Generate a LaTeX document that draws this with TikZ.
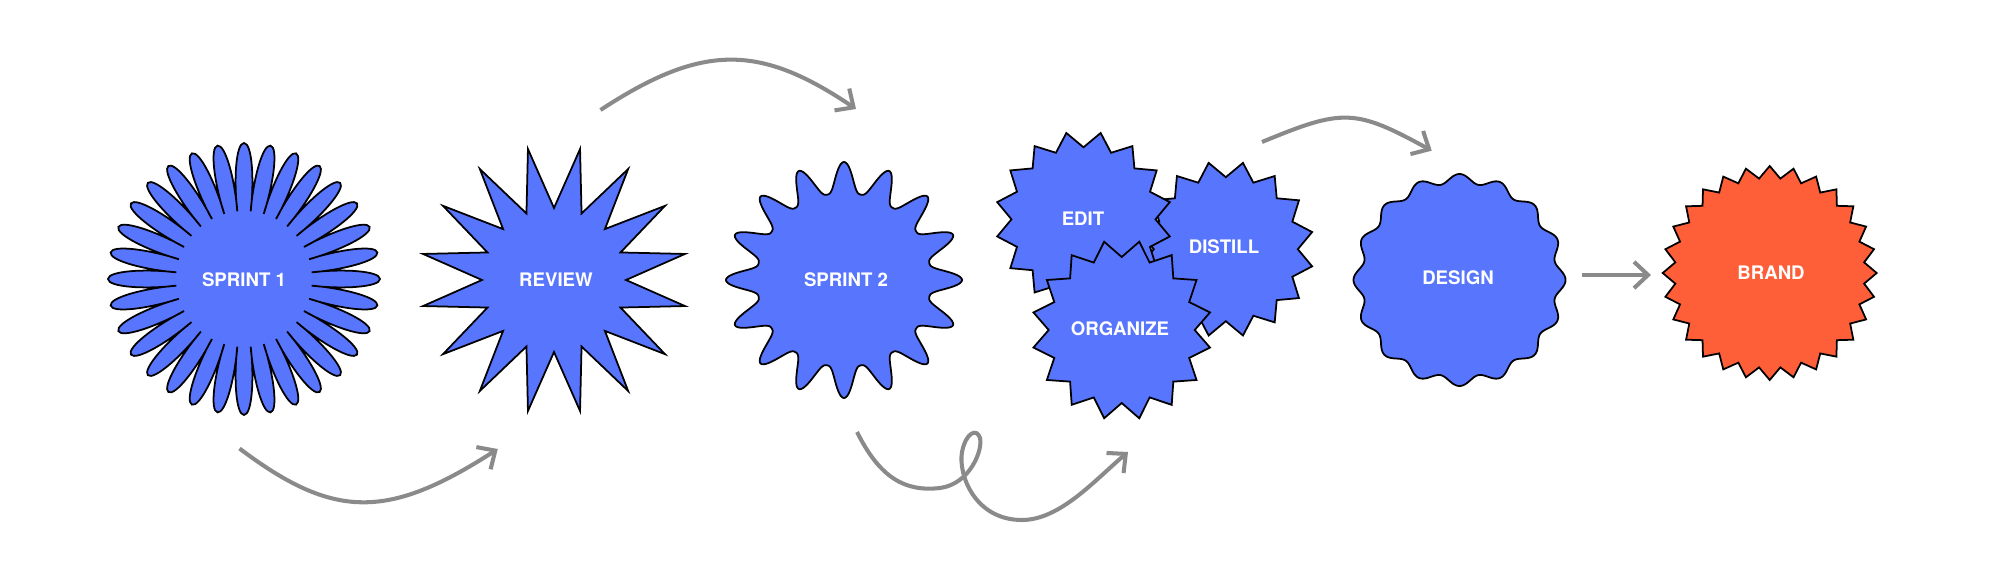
\documentclass[tikz,border=0pt]{standalone}
\usepackage{fontspec}
\setmainfont{TeX Gyre Heros}
\usetikzlibrary{arrows.meta}
\definecolor{bsblue}{HTML}{5875FE}
\definecolor{bsorange}{HTML}{FF5F38}
\definecolor{bsgrey}{HTML}{8A8A8A}

% zig-zag seal: style, x, y, points, outer r, inner r, first tip angle
\newcommand{\zigstar}[7]{%
  \begin{scope}[shift={(#2,#3)}]
    \draw[#1] (#7:#5) \foreach \k in {1,...,#4}{ -- (#7+\k*360/#4-180/#4:#6) -- (#7+\k*360/#4:#5)} -- cycle;
  \end{scope}}
% wavy seal: style, x, y, lobes, base r, depth, sharpness
\newcommand{\wavystar}[7]{%
  \begin{scope}[shift={(#2,#3)}]
    \draw[#1] plot[domain=0:360, samples=721] (\x:{#5+#6*pow(0.5005+0.4995*cos(#4*\x),#7)}) -- cycle;
  \end{scope}}

\begin{document}
\begin{tikzpicture}[x=0.01cm, y=-0.01cm,
    burst/.style={draw=black, line width=.5pt, fill=bsblue},
    flow/.style={draw=bsgrey, line width=1.15pt, -{Straight Barb[length=4pt, width=7.5pt]}},
    tag/.style={text=white, font=\fontsize{5.3}{6}\selectfont\bfseries}]
  \useasboundingbox (0,0) rectangle (2000,576);

  \begin{scope}[shift={(244,279)}]
    \draw[burst] (-5.625:68) \foreach \a in {0,11.25,...,348.75}{
      .. controls (\a-6:100) and (\a-3.4:136) .. (\a:136)
      .. controls (\a+3.4:136) and (\a+6:100) .. (\a+5.625:68)} -- cycle;
  \end{scope}
  \node[tag] (sprint1) at (244,280) {SPRINT 1};

  \zigstar{burst}{554}{280}{16}{133.5}{72}{11.25}
  \node[tag] (review) at (556,280) {REVIEW};

  \wavystar{burst}{844}{280}{16}{87}{31}{1.4}
  \node[tag] (sprint2) at (846,280) {SPRINT 2};

  \zigstar{burst}{1225.8}{249.2}{16}{88}{72}{11.25}
  \zigstar{burst}{1083.5}{219.3}{16}{88}{72}{11.25}
  \zigstar{burst}{1121.7}{330}{16}{90}{73}{11.25}
  \node[tag] (edit) at (1083,219) {EDIT};
  \node[tag] (distill) at (1224,247) {DISTILL};
  \node[tag] (organize) at (1120,329) {ORGANIZE};

  \wavystar{burst}{1459.5}{280}{16}{97}{9}{1}
  \node[tag] (design) at (1458,278) {DESIGN};

  \zigstar{burst, fill=bsorange}{1769.7}{273}{28}{107}{95}{0}
  \node[tag] (brand) at (1771,273) {BRAND};

  % arrows
  \coordinate (b1s) at (239.5,448.5);
  \coordinate (b1e) at (497.8,449);
  \coordinate (t1s) at (600.5,110);
  \coordinate (t1e) at (856,109);
  \coordinate (b2s) at (857,432);
  \coordinate (b2e) at (1128,452);
  \coordinate (t2s) at (1262,142);
  \coordinate (t2e) at (1431.7,150.7);
  \coordinate (fs) at (1582,275);
  \coordinate (fe) at (1651,275);
  \draw[flow] (b1s) .. controls (334,519.7) and (387.8,519.7) .. (b1e);
  \draw[flow] (t1s) .. controls (702,43.5) and (759,43.5) .. (t1e);
  \draw[flow] (b2s) .. controls (880,478) and (905,492) .. (940,488)
    .. controls (970,484) and (983,450) .. (980,438)
    .. controls (977,428) and (966,432) .. (962,452)
    .. controls (958,475) and (975,520) .. (1022,520)
    .. controls (1060,520) and (1095,480) .. (b2e);
  \draw[flow] (t2s) .. controls (1343,108.5) and (1354.7,108.5) .. (t2e);
  \draw[flow] (fs) -- (fe);
\end{tikzpicture}
\end{document}
